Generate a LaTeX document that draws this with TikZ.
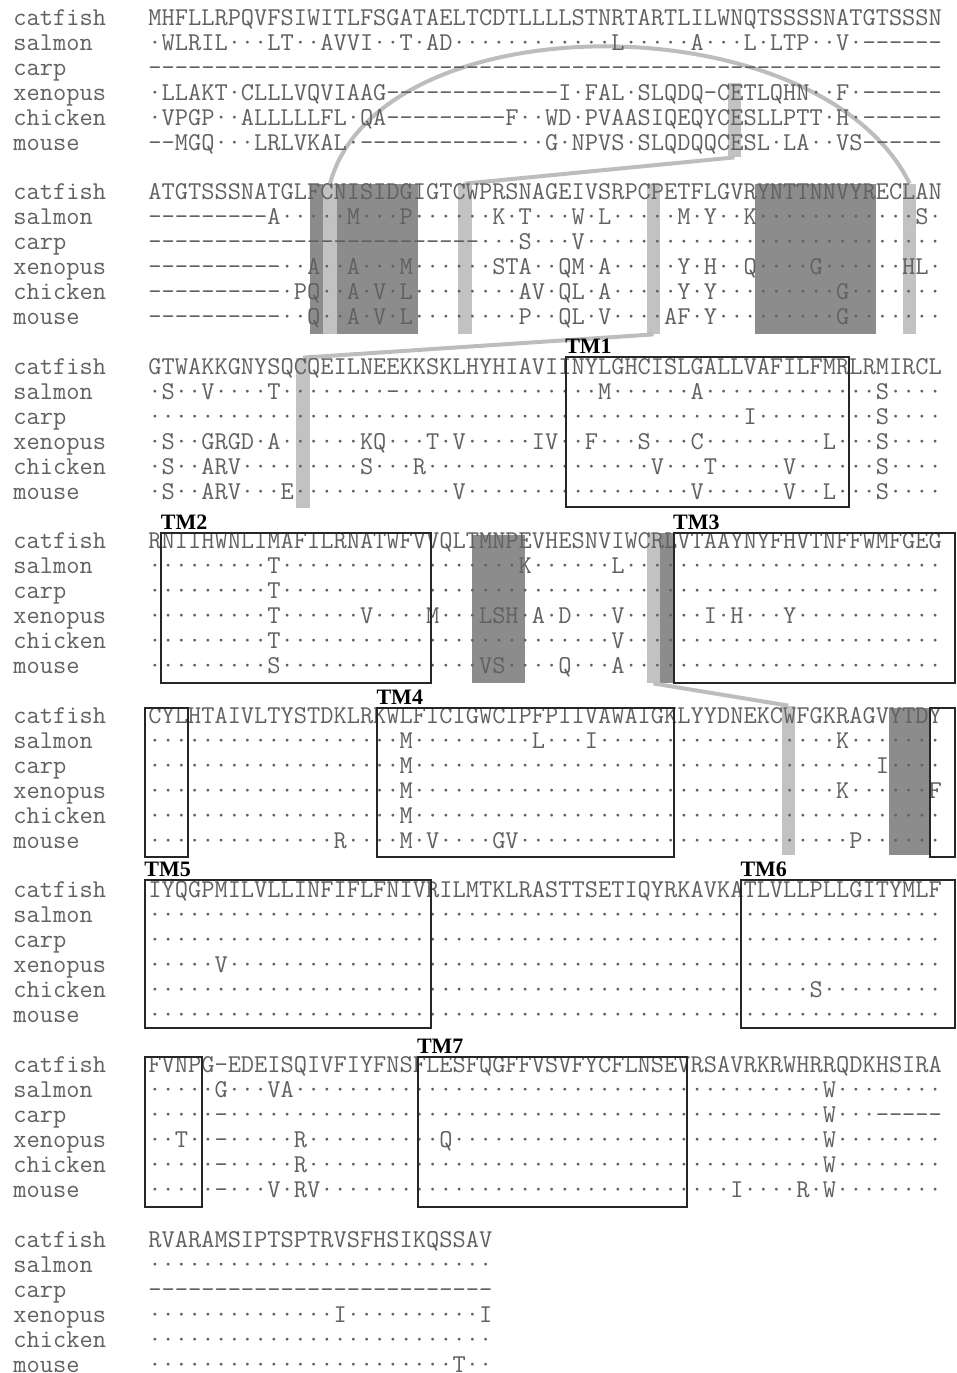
\documentclass[tikz,border=0pt]{standalone}
\usepackage{fontspec}
\newfontfamily\tmfont{Liberation Serif}
\usepackage{tikz}
\usetikzlibrary{positioning}
\usetikzlibrary{fit}
\definecolor{seqgray}{gray}{0.38}
\definecolor{barlight}{gray}{0.76}
\definecolor{bardark}{gray}{0.55}
\definecolor{linkgray}{gray}{0.74}
\newcommand{\seqfont}{\ttfamily\fontsize{12.84}{14}\selectfont}
\newcommand{\cx}[1]{148+13.48*(#1)}
\ExplSyntaxOn
\NewExpandableDocumentCommand{\repchar}{mm}{\prg_replicate:nn{#1}{#2}}
\ExplSyntaxOff
\tikzset{
seq/.style={anchor=base west, inner sep=0pt, font=\seqfont, text=seqgray},
litebar/.style={rectangle, fill=barlight, draw=none, inner sep=0pt},
darkbar/.style={rectangle, fill=bardark, draw=none, inner sep=0pt},
tmbox/.style={rectangle, draw=black!85, line width=1pt, inner sep=0pt},
tmlabel/.style={font=\tmfont\bfseries\fontsize{11}{11}\selectfont, inner sep=0pt},
link/.style={draw=linkgray, line width=2pt}
}

\begin{document}
\begin{tikzpicture}[x=0.5pt, y=-0.5pt]
    \useasboundingbox (0,0) rectangle (957,1373);
    \fill[white] (0,0) rectangle (957,1373);

    % shaded residues
    \node[litebar, fit={({\cx{43}},83) ({\cx{44}},157)}] (bar1a) {};
    \node[darkbar, fit={({\cx{12}},184) ({\cx{20}},334)}] (dark2a) {};
    \node[litebar, fit={({\cx{13}},184) ({\cx{14}},334)}] (bar2a) {};
    \node[litebar, fit={({\cx{23}},184) ({\cx{24}},334)}] (bar2b) {};
    \node[litebar, fit={({\cx{37}},184) ({\cx{38}},334)}] (bar2c) {};
    \node[darkbar, fit={({\cx{45}},184) ({\cx{54}},334)}] (dark2b) {};
    \node[litebar, fit={({\cx{56}},184) ({\cx{57}},334)}] (bar2d) {};
    \node[litebar, fit={({\cx{11}},358) ({\cx{12}},508)}] (bar3a) {};
    \node[darkbar, fit={({\cx{24}},535) ({\cx{28}},683)}] (dark4a) {};
    \node[litebar, fit={({\cx{37}},533) ({\cx{38}},683)}] (bar4a) {};
    \node[darkbar, fit={({\cx{38}},533) ({\cx{39}},683)}] (dark4b) {};
    \node[litebar, fit={({\cx{47}},706) ({\cx{48}},855)}] (bar5a) {};
    \node[darkbar, fit={({\cx{55}},708) ({\cx{58}},855)}] (dark5a) {};

    % disulfide links
    \draw[link] (bar2a.north) .. controls +(50,-183) and +(-90,-183) .. (bar2d.north);
    \draw[link] (bar1a.south) -- (bar2b.north);
    \draw[link] (bar2c.south) -- (bar3a.north);
    \draw[link] (bar4a.south) -- (bar5a.north);

    % species names
    \foreach \sp [count=\r from 0] in {catfish,salmon,carp,xenopus,chicken,mouse}
        \foreach \b in {0,...,7}
            \node[seq] (sp\b-\r) at (13,{25+174.57*\b+25*\r}) {\sp};

    % alignment rows
    \foreach \s [count=\r from 0] in {
        MHFLLRPQVFSIWITLFSGATAELTCDTLLLLSTNRTARTLILWNQTSSSSNATGTSSSN,
        ·WLRIL···LT··AVVI··T·AD············L·····A···L·LTP··V·––––––,
        ––––––––––––––––––––––––––––––––––––––––––––––––––––––––––––,
        ·LLAKT·CLLLVQVIAAG–––––––––––––I·FAL·SLQDQ–CETLQHN··F·––––––,
        ·VPGP··ALLLLLFL·QA–––––––––F··WD·PVAASIQEQYCESLLPTT·H·––––––,
        ––MGQ···LRLVKAL·––––––––––––··G·NPVS·SLQDQQCESL·LA··VS––––––}
        \node[seq] (a1-\r) at (148,{25+25*\r}) {\s};

    \foreach \s [count=\r from 0] in {
        ATGTSSSNATGLFCNISIDGIGTCWPRSNAGEIVSRPCPETFLGVRYNTTNNVYRECLAN,
        –––––––––A·····M···P······K·T···W·L·····M·Y··K············S·,
        –––––––––––––––––––––––––···S···V···························,
        ––––––––––··A··A···M······STA··QM·A·····Y·H··Q····G······HL·,
        ––––––––––·PQ··A·V·L········AV·QL·A·····Y·Y·········G·······,
        ––––––––––··Q··A·V·L········P··QL·V····AF·Y·········G·······}
        \node[seq] (a2-\r) at (148,{199.57+25*\r}) {\s};

    \foreach \s [count=\r from 0] in {
        GTWAKKGNYSQCQEILNEEKKSKLHYHIAVIINYLGHCISLGALLVAFILFMRLRMIRCL,
        ·S··V····T········–···············M······A·············S····,
        ·············································I·········S····,
        ·S··GRGD·A······KQ···T·V·····IV··F···S···C·········L···S····,
        ·S··ARV·········S···R·················V···T·····V······S····,
        ·S··ARV···E············V·················V······V··L···S····}
        \node[seq] (a3-\r) at (148,{374.14+25*\r}) {\s};

    \foreach \s [count=\r from 0] in {
        RNIIHWNLIMAFILRNATWFVVQLTMNPEVHESNVIWCRLVTAAYNYFHVTNFFWMFGEG,
        ·········T··················K······L························,
        ·········T··················································,
        ·········T······V····M···LSH·A·D···V······I·H···Y···········,
        ·········T·························V························,
        ·········S···············VS····Q···A························}
        \node[seq] (a4-\r) at (148,{548.71+25*\r}) {\s};

    \foreach \s [count=\r from 0] in {
        CYLHTAIVLTYSTDKLRKWLFICIGWCIPFPIIVAWAIGKLYYDNEKCWFGKRAGVYTDY,
        ···················M·········L···I··················K·······,
        ···················M···································I····,
        ···················M································K······F,
        ···················M········································,
        ··············R····M·V····GV·························P······}
        \node[seq] (a5-\r) at (148,{723.28+25*\r}) {\s};

    \foreach \s [count=\r from 0] in {
        IYQGPMILVLLINFIFLFNIVRILMTKLRASTTSETIQYRKAVKATLVLLPLLGITYMLF,
        \repchar{60}{·},
        \repchar{60}{·},
        \repchar{5}{·}V\repchar{54}{·},
        \repchar{50}{·}S\repchar{9}{·},
        \repchar{60}{·}}
        \node[seq] (a6-\r) at (148,{897.85+25*\r}) {\s};

    \foreach \s [count=\r from 0] in {
        FVNPG–EDEISQIVFIYFNSFLESFQGFFVSVFYCFLNSEVRSAVRKRWHRRQDKHSIRA,
        ·····G···VA········································W········,
        ·····–·············································W···–––––,
        ··T··–·····R··········Q····························W········,
        ·····–·····R·······································W········,
        ·····–···V·RV·······························I····R·W········}
        \node[seq] (a7-\r) at (148,{1072.42+25*\r}) {\s};

    \foreach \s [count=\r from 0] in {
        RVARAMSIPTSPTRVSFHSIKQSSAV,
        ··························,
        ––––––––––––––––––––––––––,
        ··············I··········I,
        ··························,
        ·······················T··}
        \node[seq] (a8-\r) at (148,{1246.99+25*\r}) {\s};

    % transmembrane segments
    \node[tmbox, fit={({\cx{31}},357) ({\cx{52}},507)}] (tm1) {};
    \node[tmbox, fit={({\cx{1}},533) ({\cx{21}},683)}] (tm2) {};
    \node[tmbox, fit={({\cx{39}},533) (955,683)}] (tm3) {};
    \node[tmbox, fit={(145,708) ({\cx{3}},857)}] (tm3b) {};
    \node[tmbox, fit={({\cx{17}},708) ({\cx{39}},857)}] (tm4) {};
    \node[tmbox, fit={({\cx{58}},708) (955,857)}] (tm5a) {};
    \node[tmbox, fit={(145,880) ({\cx{21}},1028)}] (tm5) {};
    \node[tmbox, fit={({\cx{44}},880) (955,1028)}] (tm6) {};
    \node[tmbox, fit={(145,1057) ({\cx{4}},1207)}] (tm6b) {};
    \node[tmbox, fit={({\cx{20}},1057) ({\cx{40}},1207)}] (tm7) {};

    \node[tmlabel, above right=1pt and 0pt of tm1.north west] (tm1lab) {TM1};
    \node[tmlabel, above right=1pt and 0pt of tm2.north west] (tm2lab) {TM2};
    \node[tmlabel, above right=1pt and 0pt of tm3.north west] (tm3lab) {TM3};
    \node[tmlabel, above right=1pt and 0pt of tm4.north west] (tm4lab) {TM4};
    \node[tmlabel, above right=1pt and 0pt of tm5.north west] (tm5lab) {TM5};
    \node[tmlabel, above right=1pt and 0pt of tm6.north west] (tm6lab) {TM6};
    \node[tmlabel, above right=1pt and 0pt of tm7.north west] (tm7lab) {TM7};
\end{tikzpicture}
\end{document}
